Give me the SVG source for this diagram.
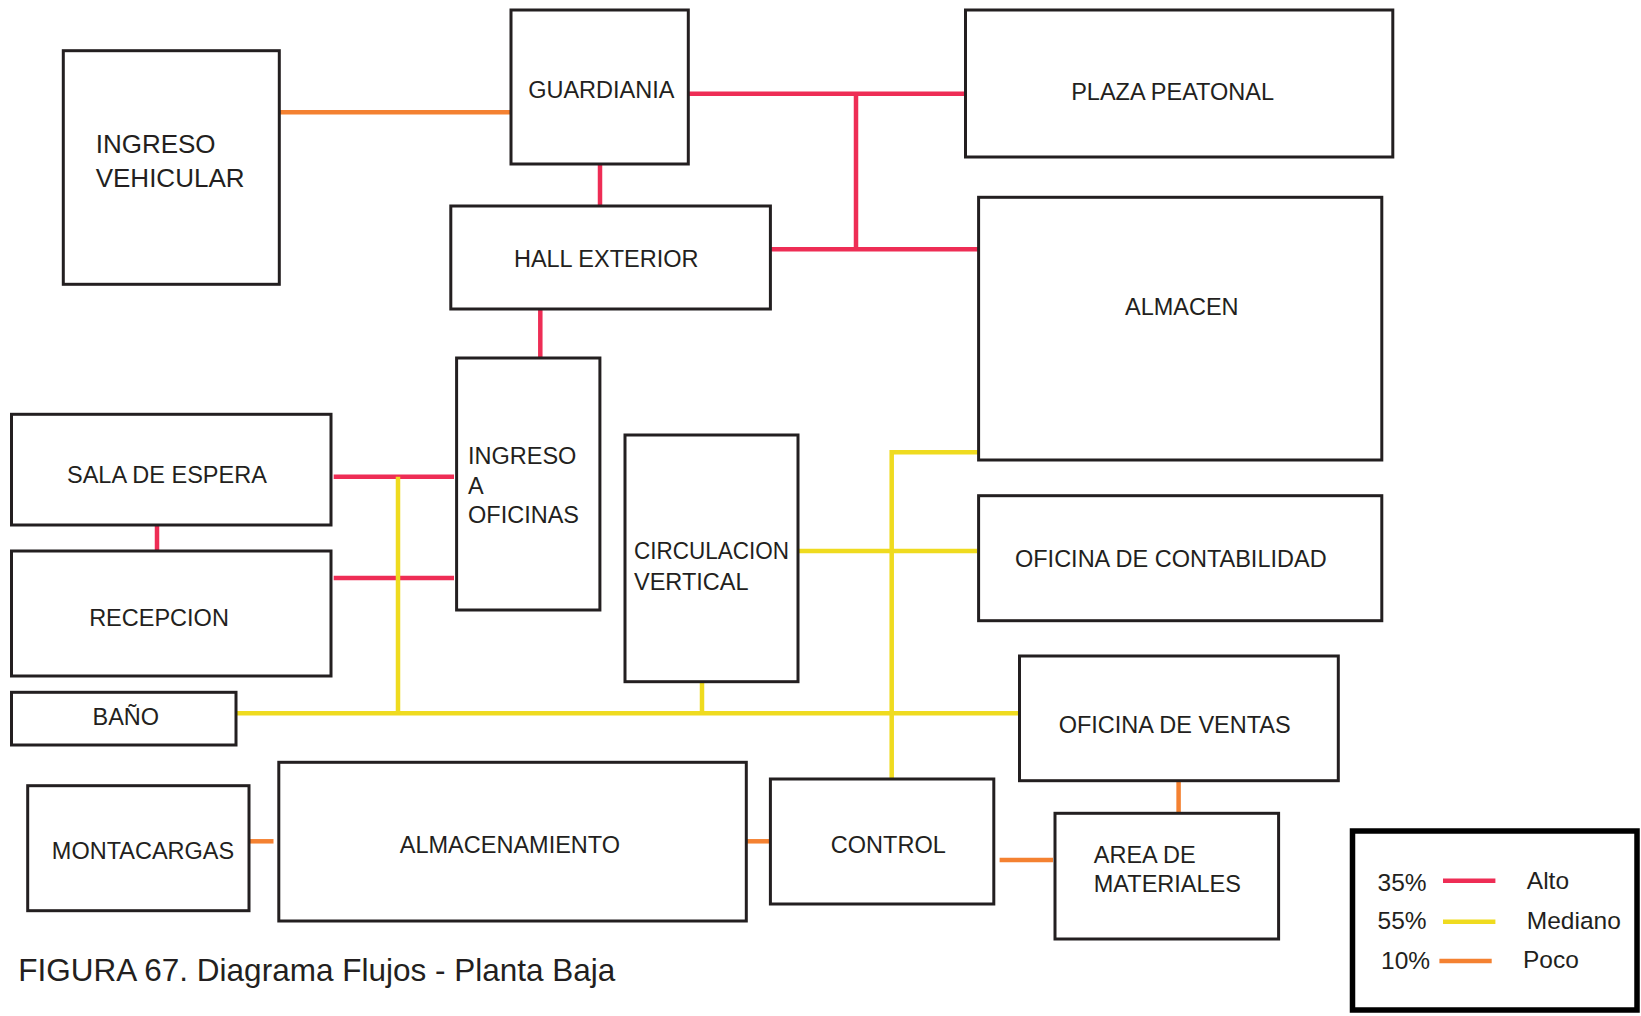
<svg xmlns="http://www.w3.org/2000/svg" width="1641" height="1016" viewBox="0 0 1641 1016">
  <style>
    .box { fill: #ffffff; stroke: #231f20; stroke-width: 3; }
    .lbl { font-family: "Liberation Sans", Arial, sans-serif; font-size: 23.5px; fill: #231f20; }
    .mid { text-anchor: middle; }
    .big { font-size: 26px; }
    .alto { fill: none; stroke: #ee2d55; stroke-width: 4.5; }
    .mediano { fill: none; stroke: #efdb1f; stroke-width: 4.5; }
    .poco { fill: none; stroke: #f48131; stroke-width: 4.5; }
    .leg { font-family: "Liberation Sans", Arial, sans-serif; font-size: 24.5px; fill: #231f20; }
    .caption { font-family: "Liberation Sans", Arial, sans-serif; font-size: 31.5px; fill: #231f20; }
  </style>
  <rect width="1641" height="1016" fill="#ffffff"/>

  <!-- flows -->
  <g id="connectors">
    <!-- high -->
    <path class="alto" d="M688 93.7 H965.5"/>
    <path class="alto" d="M856 93.7 V249.3"/>
    <path class="alto" d="M770.4 249.3 H979"/>
    <path class="alto" d="M600 164 V206"/>
    <path class="alto" d="M540.3 309 V358"/>
    <path class="alto" d="M333.7 476.7 H454"/>
    <path class="alto" d="M333.7 578 H454"/>
    <path class="alto" d="M157 525 V551"/>
    <!-- medium -->
    <path class="mediano" d="M236 713.3 H1019.5"/>
    <path class="mediano" d="M398 476.7 V713.3"/>
    <path class="mediano" d="M702 681.7 V713.3"/>
    <path class="mediano" d="M798 551 H977"/>
    <path class="mediano" d="M979 452.3 H891.7 V779"/>
    <!-- low -->
    <path class="poco" d="M279.3 112.3 H518"/>
    <path class="poco" d="M249 841.3 H273.5"/>
    <path class="poco" d="M746.3 841.3 H770.4"/>
    <path class="poco" d="M999.6 860 H1053"/>
    <path class="poco" d="M1178.6 780.7 V815"/>
  </g>

  <g id="ingreso-vehicular">
    <rect class="box" x="63.3" y="50.7" width="216" height="233.6"/>
    <text class="lbl big" x="95.7" y="153">INGRESO</text>
    <text class="lbl big" x="95.7" y="186.7">VEHICULAR</text>
  </g>
  <g id="guardiania">
    <rect class="box" x="511" y="10" width="177.3" height="154"/>
    <text class="lbl mid" x="601.3" y="97.7">GUARDIANIA</text>
  </g>
  <g id="hall-exterior">
    <rect class="box" x="450.8" y="206" width="319.6" height="103"/>
    <text class="lbl mid" x="606.2" y="266.7">HALL EXTERIOR</text>
  </g>
  <g id="plaza-peatonal">
    <rect class="box" x="965.5" y="10" width="427.3" height="147"/>
    <text class="lbl mid" x="1172.6" y="100">PLAZA PEATONAL</text>
  </g>
  <g id="almacen">
    <rect class="box" x="978.6" y="197.3" width="403.2" height="262.7"/>
    <text class="lbl mid" x="1181.8" y="315">ALMACEN</text>
  </g>
  <g id="ingreso-oficinas">
    <rect class="box" x="456.6" y="358" width="143.3" height="252"/>
    <text class="lbl" x="468" y="464.3">INGRESO</text>
    <text class="lbl" x="468" y="494.3">A</text>
    <text class="lbl" x="468" y="523.3">OFICINAS</text>
  </g>
  <g id="sala-de-espera">
    <rect class="box" x="11.5" y="414.3" width="319.5" height="110.7"/>
    <text class="lbl mid" x="166.9" y="483.3">SALA DE ESPERA</text>
  </g>
  <g id="recepcion">
    <rect class="box" x="11.5" y="551" width="319.5" height="125"/>
    <text class="lbl mid" x="159" y="626">RECEPCION</text>
  </g>
  <g id="bano">
    <rect class="box" x="11.5" y="692.3" width="224.5" height="52.7"/>
    <text class="lbl mid" x="125.8" y="725">BAÑO</text>
  </g>
  <g id="circulacion-vertical">
    <rect class="box" x="625" y="435" width="173" height="246.7"/>
    <text class="lbl" x="634" y="559.3" textLength="155" lengthAdjust="spacingAndGlyphs">CIRCULACION</text>
    <text class="lbl" x="634" y="590">VERTICAL</text>
  </g>
  <g id="oficina-contabilidad">
    <rect class="box" x="978.6" y="495.7" width="403.2" height="125"/>
    <text class="lbl mid" x="1170.8" y="566.7">OFICINA DE CONTABILIDAD</text>
  </g>
  <g id="oficina-ventas">
    <rect class="box" x="1019.5" y="656" width="318.8" height="124.7"/>
    <text class="lbl mid" x="1174.7" y="733.3">OFICINA DE VENTAS</text>
  </g>
  <g id="montacargas">
    <rect class="box" x="27.7" y="785.7" width="221.3" height="125"/>
    <text class="lbl mid" x="143" y="859.3">MONTACARGAS</text>
  </g>
  <g id="almacenamiento">
    <rect class="box" x="278.8" y="762.3" width="467.5" height="158.7"/>
    <text class="lbl mid" x="509.9" y="852.7">ALMACENAMIENTO</text>
  </g>
  <g id="control">
    <rect class="box" x="770.4" y="779" width="223.4" height="125"/>
    <text class="lbl mid" x="888.3" y="852.7">CONTROL</text>
  </g>
  <g id="area-materiales">
    <rect class="box" x="1055" y="813.3" width="223.6" height="125.7"/>
    <text class="lbl" x="1093.8" y="863.3">AREA DE</text>
    <text class="lbl" x="1093.8" y="892.3">MATERIALES</text>
  </g>

  <!-- key -->
  <g id="legend">
    <rect x="1352.5" y="831" width="284.5" height="179" fill="#ffffff" stroke="#000000" stroke-width="5.5"/>
    <text class="leg" x="1377.6" y="890.7">35%</text>
    <path class="alto" stroke-width="5.3" d="M1443 880.7 H1495.4"/>
    <text class="leg" x="1526.8" y="889.3">Alto</text>
    <text class="leg" x="1377.6" y="929">55%</text>
    <path class="mediano" stroke-width="5.3" d="M1443 921.7 H1495.4"/>
    <text class="leg" x="1526.8" y="929">Mediano</text>
    <text class="leg" x="1381" y="969.3">10%</text>
    <path class="poco" stroke-width="5.3" d="M1439.4 961 H1491.7"/>
    <text class="leg" x="1523" y="968.3">Poco</text>
  </g>

  <text class="caption" x="18.3" y="980.7">FIGURA 67. Diagrama Flujos - Planta Baja</text>
</svg>
